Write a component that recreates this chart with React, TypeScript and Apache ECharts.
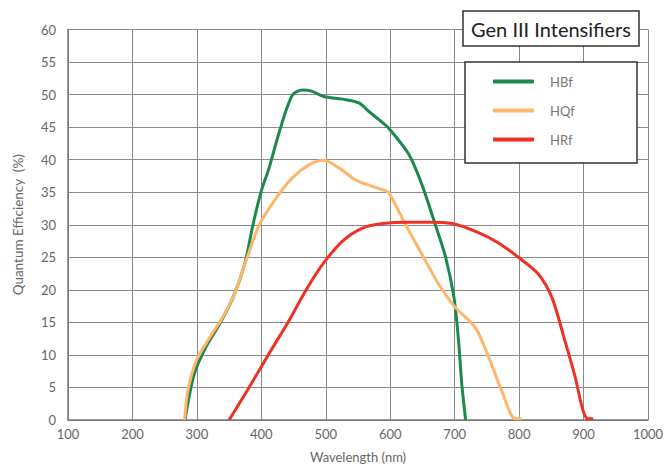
import React, { useEffect, useRef } from "react";
import * as echarts from "echarts";

const xTicks = [100, 200, 300, 400, 500, 600, 700, 800, 900, 1000];
const yTicks = [0, 5, 10, 15, 20, 25, 30, 35, 40, 45, 50, 55, 60];

const hbfWave = [282, 284, 296, 314, 335, 356, 374, 387, 400, 412, 428, 448, 464, 479, 497, 526, 552, 567, 583, 598, 629, 649, 670, 686, 699, 706, 711, 717];
const hbfQE = [0, 1.5, 7.1, 11.2, 14.7, 18.8, 23.9, 30, 35.2, 38.7, 44.3, 49.9, 50.7, 50.5, 49.7, 49.3, 48.7, 47.4, 46.1, 44.8, 40.8, 36.2, 30, 25, 18.8, 12.2, 5.6, 0];

const hqfWave = [281, 286, 299, 320, 340, 358, 376, 397, 423, 448, 474, 497, 521, 546, 572, 593, 598, 624, 649, 675, 701, 732, 753, 773, 794, 804];
const hqfQE = [0, 4.5, 9.1, 12.7, 15.8, 19.3, 24.4, 30, 34.1, 37.2, 39.2, 39.9, 38.7, 36.9, 35.9, 35.2, 34.9, 30, 25.5, 20.9, 17.3, 14.2, 9.6, 4.5, 0.2, 0.2];

const hrfWave = [350, 381, 412, 443, 469, 495, 526, 557, 588, 630, 660, 696, 737, 768, 799, 830, 851, 871, 887, 899, 907, 915];
const hrfQE = [0, 5, 10.2, 15.3, 19.9, 23.9, 27.5, 29.5, 30.2, 30.4, 30.4, 30.2, 28.8, 27.2, 25, 22.4, 18.8, 12.2, 6.6, 1.5, 0.2, 0.2];

const seriesNames = ["HBf", "HQf", "HRf"];
const seriesColors = ["#1c8a4c", "#fdb66a", "#ee3124"];
const chartTitle = "Gen III Intensifiers";

const zip = (xs: number[], ys: number[]) => xs.map((x, i) => [x, ys[i]]);

export default function App() {
  const ref = useRef<HTMLDivElement>(null);
  useEffect(() => {
    if (!ref.current) return;
    const chart = echarts.init(ref.current, null, { renderer: "svg" });
    const font = "Lato, 'DejaVu Sans', sans-serif";
    const data = [zip(hbfWave, hbfQE), zip(hqfWave, hqfQE), zip(hrfWave, hrfQE)];
    chart.setOption({
      animation: false,
      backgroundColor: "#ffffff",
      textStyle: { fontFamily: font },
      grid: { left: 68, top: 29.5, right: 20, bottom: 45, containLabel: false },
      xAxis: {
        type: "value",
        min: xTicks[0],
        max: xTicks[xTicks.length - 1],
        interval: 100,
        name: "Wavelength (nm)",
        nameLocation: "middle",
        nameGap: 30,
        nameTextStyle: { color: "#666", fontSize: 13, fontFamily: font },
        axisLine: { show: true, lineStyle: { color: "#777", width: 1.5 } },
        axisTick: { show: false },
        axisLabel: { color: "#666", fontSize: 13, margin: 7, fontFamily: font, formatter: (v: number) => String(v) },
        splitLine: { show: true, lineStyle: { color: "#8a8a8a", width: 1 } },
      },
      yAxis: {
        type: "value",
        min: yTicks[0],
        max: yTicks[yTicks.length - 1],
        interval: 5,
        name: "Quantum Efficiency  (%)",
        nameLocation: "middle",
        nameGap: 43,
        nameTextStyle: { color: "#666", fontSize: 13.5, fontFamily: font },
        axisLine: { show: true, lineStyle: { color: "#777", width: 1.5 } },
        axisTick: { show: false },
        axisLabel: { color: "#666", fontSize: 13, margin: 12, fontFamily: font },
        splitLine: { show: true, lineStyle: { color: "#8a8a8a", width: 1 } },
      },
      legend: {
        orient: "vertical",
        left: 488,
        top: 70,
        itemWidth: 41,
        itemHeight: 4,
        itemGap: 16,
        icon: "roundRect",
        z: 10,
        textStyle: { color: "#777", fontSize: 13, padding: [0, 0, 0, 11], fontFamily: font },
        data: seriesNames,
      },
      graphic: [
        {
          type: "rect",
          z: 5,
          shape: { x: 463, y: 11, width: 176, height: 35 },
          style: { fill: "#fff", stroke: "#333", lineWidth: 1.5 },
        },
        {
          type: "text",
          z: 6,
          x: 551,
          y: 29,
          style: {
            text: chartTitle,
            fill: "#222",
            fontSize: 20,
            fontFamily: font,
            align: "center",
            verticalAlign: "middle",
          },
        },
        {
          type: "rect",
          z: 5,
          shape: { x: 465, y: 62, width: 172, height: 101 },
          style: { fill: "#fff", stroke: "#333", lineWidth: 1.5 },
        },
      ],
      series: seriesNames.map((name, i) => ({
        name,
        type: "line",
        data: data[i],
        smooth: 0.3,
        showSymbol: false,
        symbol: "none",
        lineStyle: { color: seriesColors[i], width: 3 },
        itemStyle: { color: seriesColors[i] },
      })),
    });
    return () => chart.dispose();
  }, []);
  return <div ref={ref} style={{ width: 668, height: 468, position: "absolute", left: 0, top: 0 }} />;
}
